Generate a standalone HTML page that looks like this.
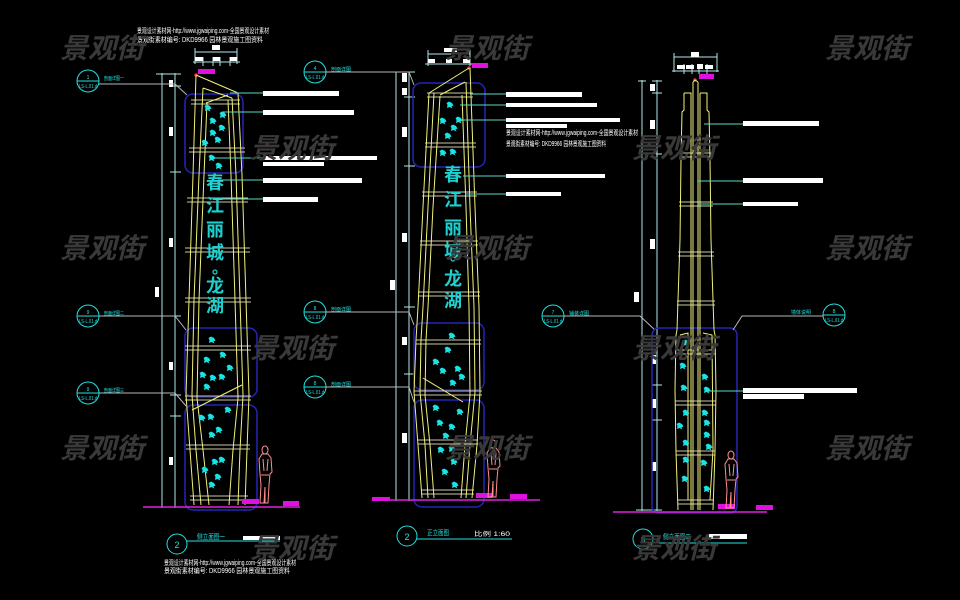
<!DOCTYPE html>
<html><head><meta charset="utf-8">
<style>
html,body{margin:0;padding:0;background:#000;}
body{width:960px;height:600px;overflow:hidden;}
svg{display:block;}
text{font-family:"Liberation Sans","Noto Sans CJK SC",sans-serif;}
</style></head>
<body>
<svg width="960" height="600" viewBox="0 0 960 600" xmlns="http://www.w3.org/2000/svg">
<defs>
  <path id="leaf" d="M-1,-3.5 L2,-2 L3.5,0.5 L1.5,1.5 L2.5,3.5 L-0.5,2 L-3,3 L-2.5,0 L-3.5,-2 Z" fill="#19e3e3"/>
  <g id="person" fill="none" stroke="#ff8f8f" stroke-width="1">
    <ellipse cx="8" cy="5" rx="3" ry="4"/>
    <path d="M5,9 L11,9 L14,13 L15,27 L13,29 L12,40 L11,58 L8,58 L8,42 L7,58 L3,58 L4,40 L3,29 L2,14 Z"/>
    <path d="M6,14 L7,26 M11,14 L10,26 M4,30 L12,30"/>
  </g>
</defs>
<rect width="960" height="600" fill="#000"/>

<!-- ============ TOP-LEFT TEXT ============ -->
<g fill="#ffffff" font-size="7">
  <text x="137" y="33" textLength="132" lengthAdjust="spacingAndGlyphs">景观设计素材网-http://www.jgwaiping.com-全国景观设计素材</text>
  <text x="137" y="42" textLength="126" lengthAdjust="spacingAndGlyphs">景观街素材编号: DKD9966  园林景观施工图资料</text>
</g>

<!-- ============ LEFT TOWER ============ -->
<g>
  <g stroke="#b0e8e8" stroke-width="1" fill="none">
    <line x1="195" y1="52" x2="237" y2="52"/>
    <line x1="195" y1="48" x2="195" y2="64"/><line x1="237" y1="48" x2="237" y2="64"/>
    <line x1="193" y1="62" x2="240" y2="62"/>
    <line x1="203" y1="57" x2="203" y2="66"/><line x1="213" y1="57" x2="213" y2="66"/><line x1="220" y1="57" x2="220" y2="66"/><line x1="230" y1="57" x2="230" y2="66"/>
  </g>
  <rect x="212" y="45" width="8" height="5" fill="#fff"/>
  <rect x="195" y="57" width="8" height="4" fill="#fff"/><rect x="213" y="57" width="7" height="4" fill="#fff"/><rect x="230" y="57" width="7" height="4" fill="#fff"/>
  <rect x="198" y="69" width="17" height="5" fill="#e010e0"/>
  <circle cx="196" cy="75" r="1.8" fill="#ff2020"/>

  <g stroke="#b0e8e8" stroke-width="1" fill="none">
    <line x1="162" y1="73" x2="162" y2="508"/>
    <line x1="175" y1="73" x2="175" y2="508"/>
    <line x1="156" y1="74" x2="181" y2="74"/>
    <line x1="170" y1="86" x2="181" y2="86"/>
    <line x1="170" y1="172" x2="181" y2="172"/>
    <line x1="170" y1="316" x2="181" y2="316"/>
    <line x1="170" y1="395" x2="181" y2="395"/>
    <line x1="170" y1="416" x2="181" y2="416"/>
    <line x1="156" y1="507" x2="181" y2="507"/>
  </g>
  <g fill="#fff">
    <rect x="169" y="80" width="4" height="7"/>
    <rect x="169" y="127" width="4" height="9"/>
    <rect x="169" y="238" width="4" height="9"/>
    <rect x="155" y="287" width="4" height="10"/>
    <rect x="169" y="362" width="4" height="8"/>
    <rect x="169" y="457" width="4" height="8"/>
  </g>

  <g fill="none" stroke="#2424b8" stroke-width="1.5">
    <rect x="185" y="94" width="58" height="79" rx="8"/>
    <rect x="185" y="328" width="72" height="69" rx="8"/>
    <rect x="185" y="405" width="72" height="105" rx="8"/>
  </g>

  <g stroke="#c8c8a0" stroke-width="1">
    <line x1="191" y1="100" x2="240" y2="100"/><line x1="191" y1="104" x2="240" y2="104"/>
    <line x1="189" y1="148" x2="245" y2="148"/><line x1="189" y1="152" x2="245" y2="152"/>
    <line x1="187" y1="198" x2="248" y2="198"/><line x1="187" y1="202" x2="248" y2="202"/>
    <line x1="185" y1="248" x2="250" y2="248"/><line x1="185" y1="252" x2="250" y2="252"/>
    <line x1="185" y1="298" x2="251" y2="298"/><line x1="185" y1="302" x2="251" y2="302"/>
    <line x1="185" y1="346" x2="251" y2="346"/><line x1="185" y1="350" x2="251" y2="350"/>
    <line x1="185" y1="396" x2="251" y2="396"/><line x1="185" y1="400" x2="251" y2="400"/>
    <line x1="186" y1="445" x2="250" y2="445"/><line x1="186" y1="449" x2="250" y2="449"/>
    <line x1="190" y1="496" x2="248" y2="496"/><line x1="190" y1="500" x2="248" y2="500"/>
  </g>

  <g fill="none" stroke="#f2f27a" stroke-width="1">
    <path d="M196,75 L238,93"/>
    <path d="M203,88 L232,98"/>
    <path d="M206,103 L228,95"/>
    <path d="M196,75 L193,175 L189,300 L186,395 L190,450 L194,505"/>
    <path d="M203,88 L199,175 L194,300 L192,395 L196,450 L201,505"/>
    <path d="M207,103 L204,175 L199,300 L197,398 L203,450 L209,505"/>
    <path d="M238,93 L242,175 L246,300 L249,395 L247,450 L245,505"/>
    <path d="M232,98 L236,175 L240,300 L243,395 L240,450 L238,505"/>
    <path d="M228,100 L231,175 L235,300 L238,398 L233,450 L229,505"/>
    <path d="M242,385 L192,410"/>
  </g>

  <g fill="#1fd0d0" font-size="18" font-weight="bold" text-anchor="middle" font-family="'Noto Sans CJK SC',sans-serif">
    <text x="215" y="189">春</text>
    <text x="215" y="212">江</text>
    <text x="215" y="236">丽</text>
    <text x="215" y="259">城</text>
    <text x="215" y="292">龙</text>
    <text x="215" y="312">湖</text>
  </g>
  <circle cx="215" cy="272" r="2" fill="none" stroke="#1fd0d0" stroke-width="1.2"/>

  <g>
    <use href="#leaf" x="208" y="108"/><use href="#leaf" x="223" y="115"/><use href="#leaf" x="213" y="121"/>
    <use href="#leaf" x="222" y="128"/><use href="#leaf" x="213" y="133"/><use href="#leaf" x="205" y="143"/>
    <use href="#leaf" x="218" y="140"/><use href="#leaf" x="212" y="158"/><use href="#leaf" x="219" y="166"/>
    <use href="#leaf" x="212" y="340"/><use href="#leaf" x="223" y="355"/><use href="#leaf" x="207" y="360"/>
    <use href="#leaf" x="230" y="368"/><use href="#leaf" x="203" y="375"/><use href="#leaf" x="213" y="378"/>
    <use href="#leaf" x="222" y="377"/><use href="#leaf" x="207" y="387"/>
    <use href="#leaf" x="202" y="418"/><use href="#leaf" x="211" y="417"/><use href="#leaf" x="228" y="410"/>
    <use href="#leaf" x="219" y="430"/><use href="#leaf" x="212" y="435"/><use href="#leaf" x="222" y="460"/>
    <use href="#leaf" x="215" y="462"/><use href="#leaf" x="205" y="470"/><use href="#leaf" x="218" y="477"/>
    <use href="#leaf" x="212" y="485"/>
  </g>

  <line x1="143" y1="507" x2="300" y2="507" stroke="#e020e0" stroke-width="1.5"/>
  <rect x="242" y="499" width="17" height="5" fill="#e010e0"/>
  <rect x="283" y="501" width="16" height="5" fill="#e010e0"/>
  <use href="#person" transform="translate(257,445)"/>

  <g stroke="#5ad8c8" stroke-width="1">
    <line x1="230" y1="93" x2="263" y2="93"/>
    <line x1="222" y1="112" x2="263" y2="112"/>
    <line x1="215" y1="158" x2="263" y2="158"/>
    <line x1="218" y1="180" x2="263" y2="180"/>
    <line x1="215" y1="199" x2="263" y2="199"/>
  </g>
  <g fill="#fff">
    <rect x="263" y="91" width="76" height="5"/>
    <rect x="263" y="110" width="91" height="5"/>
    <rect x="263" y="156" width="114" height="4"/>
    <rect x="263" y="162" width="61" height="4"/>
    <rect x="263" y="178" width="99" height="5"/>
    <rect x="263" y="197" width="55" height="5"/>
  </g>

  <g fill="none" stroke="#22e0e0" stroke-width="1">
    <circle cx="88" cy="81" r="11"/><line x1="77" y1="81" x2="99" y2="81"/>
    <circle cx="88" cy="316" r="11"/><line x1="77" y1="316" x2="99" y2="316"/>
    <circle cx="88" cy="393" r="11"/><line x1="77" y1="393" x2="99" y2="393"/>
  </g>
  <g fill="#22e0e0" font-size="5" text-anchor="middle">
    <text x="88" y="79">1</text><text x="88" y="88" textLength="18" lengthAdjust="spacingAndGlyphs">LS-L.01.d</text>
    <text x="88" y="314">9</text><text x="88" y="323" textLength="18" lengthAdjust="spacingAndGlyphs">LS-L.01.d</text>
    <text x="88" y="391">9</text><text x="88" y="400" textLength="18" lengthAdjust="spacingAndGlyphs">LS-L.01.d</text>
  </g>
  <g fill="#22e0e0" font-size="5">
    <text x="104" y="80" textLength="20" lengthAdjust="spacingAndGlyphs">剖面详图一</text>
    <text x="104" y="315" textLength="20" lengthAdjust="spacingAndGlyphs">剖面详图二</text>
    <text x="104" y="392" textLength="20" lengthAdjust="spacingAndGlyphs">剖面详图三</text>
  </g>
  <g fill="none" stroke="#b8b8b8" stroke-width="1">
    <path d="M99,84 L175,84 L187,95"/>
    <path d="M99,316 L175,316 L186,330"/>
    <path d="M99,393 L175,393 L186,406"/>
  </g>

  <circle cx="177" cy="544" r="10" fill="none" stroke="#22e0e0" stroke-width="1"/>
  <text x="177" y="548" fill="#22e0e0" font-size="9" text-anchor="middle">2</text>
  <line x1="187" y1="541" x2="280" y2="541" stroke="#22e0e0" stroke-width="1"/>
  <text x="197" y="539" fill="#22e0e0" font-size="7" textLength="28" lengthAdjust="spacingAndGlyphs">侧立面图一</text>
  <rect x="243" y="536" width="37" height="4" fill="#fff"/>
  <g fill="#ffffff" font-size="7">
    <text x="164" y="565" textLength="132" lengthAdjust="spacingAndGlyphs">景观设计素材网-http://www.jgwaiping.com-全国景观设计素材</text>
    <text x="164" y="573" textLength="126" lengthAdjust="spacingAndGlyphs">景观街素材编号: DKD9966  园林景观施工图资料</text>
  </g>
</g>

<!-- ============ MIDDLE TOWER ============ -->
<g>
  <g stroke="#b0e8e8" stroke-width="1" fill="none">
    <line x1="428" y1="54" x2="470" y2="54"/>
    <line x1="428" y1="50" x2="428" y2="66"/><line x1="470" y1="50" x2="470" y2="66"/>
    <line x1="425" y1="64" x2="473" y2="64"/>
  </g>
  <rect x="444" y="48" width="13" height="4" fill="#fff"/>
  <rect x="428" y="59" width="7" height="4" fill="#fff"/><rect x="446" y="59" width="6" height="4" fill="#fff"/><rect x="463" y="59" width="7" height="4" fill="#fff"/>
  <rect x="472" y="63" width="16" height="5" fill="#e010e0"/>
  <circle cx="469" cy="68" r="1.8" fill="#ff2020"/>

  <g stroke="#b0e8e8" stroke-width="1" fill="none">
    <line x1="396" y1="72" x2="396" y2="501"/>
    <line x1="409" y1="72" x2="409" y2="501"/>
    <line x1="390" y1="72" x2="415" y2="72"/>
    <line x1="404" y1="97" x2="415" y2="97"/>
    <line x1="404" y1="166" x2="415" y2="166"/>
    <line x1="404" y1="307" x2="415" y2="307"/>
    <line x1="404" y1="374" x2="415" y2="374"/>
    <line x1="390" y1="500" x2="415" y2="500"/>
  </g>
  <g fill="#fff">
    <rect x="402" y="73" width="5" height="9"/>
    <rect x="402" y="88" width="5" height="7"/>
    <rect x="402" y="127" width="5" height="10"/>
    <rect x="402" y="233" width="5" height="9"/>
    <rect x="390" y="280" width="5" height="10"/>
    <rect x="402" y="337" width="5" height="8"/>
    <rect x="402" y="433" width="5" height="10"/>
  </g>

  <g fill="none" stroke="#2424b8" stroke-width="1.5">
    <rect x="413" y="83" width="72" height="84" rx="8"/>
    <rect x="414" y="323" width="70" height="67" rx="8"/>
    <rect x="414" y="400" width="70" height="107" rx="8"/>
  </g>

  <g stroke="#c8c8a0" stroke-width="1">
    <line x1="427" y1="93" x2="473" y2="93"/><line x1="427" y1="97" x2="473" y2="97"/>
    <line x1="425" y1="143" x2="476" y2="143"/><line x1="425" y1="147" x2="476" y2="147"/>
    <line x1="422" y1="192" x2="477" y2="192"/><line x1="422" y1="196" x2="477" y2="196"/>
    <line x1="420" y1="241" x2="478" y2="241"/><line x1="420" y1="245" x2="478" y2="245"/>
    <line x1="418" y1="292" x2="480" y2="292"/><line x1="418" y1="296" x2="480" y2="296"/>
    <line x1="416" y1="340" x2="481" y2="340"/><line x1="416" y1="344" x2="481" y2="344"/>
    <line x1="414" y1="391" x2="482" y2="391"/><line x1="414" y1="395" x2="482" y2="395"/>
    <line x1="418" y1="440" x2="478" y2="440"/><line x1="418" y1="444" x2="478" y2="444"/>
    <line x1="421" y1="490" x2="474" y2="490"/><line x1="421" y1="494" x2="474" y2="494"/>
  </g>

  <g fill="none" stroke="#f2f27a" stroke-width="1">
    <path d="M469,68 L429,93"/>
    <path d="M465,82 L440,95"/>
    <path d="M429,93 L423,207 L418,307 L416,340 L414,392 L418,445 L422,498"/>
    <path d="M434,93 L428,207 L423,307 L421,340 L420,392 L425,445 L428,498"/>
    <path d="M440,96 L433,207 L428,307 L426,340 L425,395 L430,445 L434,498"/>
    <path d="M470,68 L475,207 L479,307 L480,392 L477,445 L472,498"/>
    <path d="M466,82 L470,207 L474,307 L475,392 L470,445 L466,498"/>
    <path d="M462,95 L466,207 L469,307 L470,395 L465,445 L461,498"/>
    <path d="M423,378 L463,402"/>
  </g>

  <g fill="#1fd0d0" font-size="18" font-weight="bold" text-anchor="middle" font-family="'Noto Sans CJK SC',sans-serif">
    <text x="453" y="181">春</text>
    <text x="453" y="206">江</text>
    <text x="453" y="234">丽</text>
    <text x="453" y="257">城</text>
    <text x="453" y="285">龙</text>
    <text x="453" y="307">湖</text>
  </g>
  <circle cx="453" cy="259" r="2" fill="none" stroke="#1fd0d0" stroke-width="1.2"/>

  <g>
    <use href="#leaf" x="450" y="105"/><use href="#leaf" x="459" y="120"/><use href="#leaf" x="443" y="121"/>
    <use href="#leaf" x="454" y="128"/><use href="#leaf" x="448" y="136"/><use href="#leaf" x="443" y="153"/>
    <use href="#leaf" x="453" y="152"/>
    <use href="#leaf" x="452" y="336"/><use href="#leaf" x="448" y="350"/><use href="#leaf" x="436" y="362"/>
    <use href="#leaf" x="443" y="371"/><use href="#leaf" x="458" y="369"/><use href="#leaf" x="453" y="383"/>
    <use href="#leaf" x="462" y="377"/>
    <use href="#leaf" x="436" y="408"/><use href="#leaf" x="460" y="412"/><use href="#leaf" x="440" y="423"/>
    <use href="#leaf" x="452" y="427"/><use href="#leaf" x="446" y="436"/><use href="#leaf" x="441" y="450"/>
    <use href="#leaf" x="452" y="449"/><use href="#leaf" x="445" y="472"/><use href="#leaf" x="454" y="462"/>
    <use href="#leaf" x="455" y="485"/>
  </g>

  <line x1="373" y1="500" x2="540" y2="500" stroke="#e020e0" stroke-width="1.5"/>
  <rect x="372" y="497" width="18" height="4" fill="#e010e0"/>
  <rect x="476" y="493" width="16" height="5" fill="#e010e0"/>
  <rect x="510" y="494" width="17" height="5" fill="#e010e0"/>
  <use href="#person" transform="translate(485,439)"/>

  <g stroke="#5ad8c8" stroke-width="1">
    <line x1="470" y1="94" x2="506" y2="94"/>
    <line x1="460" y1="105" x2="506" y2="105"/>
    <line x1="462" y1="120" x2="506" y2="120"/>
    <line x1="463" y1="176" x2="506" y2="176"/>
    <line x1="465" y1="194" x2="506" y2="194"/>
  </g>
  <g fill="#fff">
    <rect x="506" y="92" width="76" height="5"/>
    <rect x="506" y="103" width="91" height="4"/>
    <rect x="506" y="118" width="114" height="4"/>
    <rect x="506" y="124" width="61" height="4"/>
    <rect x="506" y="174" width="99" height="4"/>
    <rect x="506" y="192" width="55" height="4"/>
  </g>
  <g fill="#ffffff" font-size="7">
    <text x="506" y="135" textLength="132" lengthAdjust="spacingAndGlyphs">景观设计素材网-http://www.jgwaiping.com-全国景观设计素材</text>
    <text x="506" y="146" textLength="100" lengthAdjust="spacingAndGlyphs">景观街素材编号: DKD9966  园林景观施工图资料</text>
  </g>

  <g fill="none" stroke="#22e0e0" stroke-width="1">
    <circle cx="315" cy="72" r="11"/><line x1="304" y1="72" x2="326" y2="72"/>
    <circle cx="315" cy="312" r="11"/><line x1="304" y1="312" x2="326" y2="312"/>
    <circle cx="315" cy="387" r="11"/><line x1="304" y1="387" x2="326" y2="387"/>
    <circle cx="553" cy="316" r="11"/><line x1="542" y1="316" x2="564" y2="316"/>
  </g>
  <g fill="#22e0e0" font-size="5" text-anchor="middle">
    <text x="315" y="70">4</text><text x="315" y="79" textLength="18" lengthAdjust="spacingAndGlyphs">LS-L.01.d</text>
    <text x="315" y="310">8</text><text x="315" y="319" textLength="18" lengthAdjust="spacingAndGlyphs">LS-L.01.d</text>
    <text x="315" y="385">8</text><text x="315" y="394" textLength="18" lengthAdjust="spacingAndGlyphs">LS-L.01.d</text>
    <text x="553" y="314">7</text><text x="553" y="323" textLength="18" lengthAdjust="spacingAndGlyphs">LS-L.01.d</text>
  </g>
  <g fill="#22e0e0" font-size="5">
    <text x="331" y="71" textLength="20" lengthAdjust="spacingAndGlyphs">剖面详图</text>
    <text x="331" y="311" textLength="20" lengthAdjust="spacingAndGlyphs">剖面详图</text>
    <text x="331" y="386" textLength="20" lengthAdjust="spacingAndGlyphs">剖面详图</text>
    <text x="569" y="315" textLength="20" lengthAdjust="spacingAndGlyphs">铺装详图</text>
  </g>
  <g fill="none" stroke="#b8b8b8" stroke-width="1">
    <path d="M326,72 L409,72 L414,85"/>
    <path d="M326,312 L409,312 L414,325"/>
    <path d="M326,387 L409,387 L414,402"/>
    <path d="M564,316 L640,316 L655,330"/>
  </g>

  <circle cx="407" cy="536" r="10" fill="none" stroke="#22e0e0" stroke-width="1"/>
  <text x="407" y="540" fill="#22e0e0" font-size="9" text-anchor="middle">2</text>
  <line x1="417" y1="539" x2="512" y2="539" stroke="#22e0e0" stroke-width="1"/>
  <text x="427" y="535" fill="#22e0e0" font-size="7" textLength="22" lengthAdjust="spacingAndGlyphs">正立面图</text>
  <text x="474" y="536" fill="#fff" font-size="6" textLength="36" lengthAdjust="spacingAndGlyphs">比例 1:60</text>
</g>

<!-- ============ RIGHT TOWER ============ -->
<g>
  <g stroke="#b0e8e8" stroke-width="1" fill="none">
    <line x1="674" y1="57" x2="717" y2="57"/>
    <line x1="674" y1="53" x2="674" y2="72"/><line x1="717" y1="53" x2="717" y2="72"/>
    <line x1="672" y1="71" x2="719" y2="71"/>
    <line x1="684" y1="64" x2="684" y2="74"/><line x1="692" y1="64" x2="692" y2="74"/><line x1="699" y1="64" x2="699" y2="74"/><line x1="707" y1="64" x2="707" y2="74"/>
  </g>
  <rect x="691" y="52" width="8" height="5" fill="#fff"/>
  <rect x="677" y="65" width="8" height="4" fill="#fff"/><rect x="686" y="65" width="8" height="4" fill="#fff"/><rect x="697" y="64" width="6" height="5" fill="#fff"/><rect x="705" y="65" width="8" height="4" fill="#fff"/>
  <rect x="699" y="74" width="15" height="5" fill="#e010e0"/>
  <circle cx="695" cy="80" r="1.8" fill="#ff2020"/>

  <g stroke="#b0e8e8" stroke-width="1" fill="none">
    <line x1="642" y1="80" x2="642" y2="511"/>
    <line x1="657" y1="80" x2="657" y2="511"/>
    <line x1="638" y1="81" x2="646" y2="81"/>
    <line x1="652" y1="81" x2="662" y2="81"/>
    <line x1="652" y1="93" x2="662" y2="93"/>
    <line x1="652" y1="154" x2="662" y2="154"/>
    <line x1="652" y1="385" x2="662" y2="385"/>
    <line x1="652" y1="420" x2="662" y2="420"/>
    <line x1="636" y1="510" x2="662" y2="510"/>
  </g>
  <g fill="#fff">
    <rect x="650" y="84" width="5" height="7"/>
    <rect x="650" y="120" width="5" height="9"/>
    <rect x="650" y="239" width="5" height="10"/>
    <rect x="634" y="292" width="5" height="10"/>
    <rect x="652" y="355" width="4" height="9"/>
    <rect x="652" y="399" width="4" height="9"/>
    <rect x="652" y="462" width="4" height="9"/>
  </g>

  <rect x="652" y="328" width="85" height="185" rx="7" fill="none" stroke="#2424b8" stroke-width="1.5"/>

  <g stroke="#c8c8a0" stroke-width="1">
    <line x1="680" y1="153" x2="712" y2="153"/><line x1="680" y1="157" x2="712" y2="157"/>
    <line x1="679" y1="202" x2="713" y2="202"/><line x1="679" y1="206" x2="713" y2="206"/>
    <line x1="678" y1="252" x2="714" y2="252"/><line x1="678" y1="256" x2="714" y2="256"/>
    <line x1="677" y1="301" x2="715" y2="301"/><line x1="677" y1="305" x2="715" y2="305"/>
    <line x1="676" y1="350" x2="716" y2="350"/><line x1="676" y1="354" x2="716" y2="354"/>
    <line x1="675" y1="401" x2="716" y2="401"/><line x1="675" y1="405" x2="716" y2="405"/>
    <line x1="676" y1="451" x2="715" y2="451"/><line x1="676" y1="455" x2="715" y2="455"/>
    <line x1="678" y1="500" x2="713" y2="500"/><line x1="678" y1="504" x2="713" y2="504"/>
  </g>

  <g fill="none" stroke="#f2f27a" stroke-width="1">
    <path d="M693,82 L693,510"/>
    <path d="M698,82 L698,510"/>
    <path d="M693,82 L695,80 L698,82"/>
    <path d="M684,93 L691,93 L691,510"/>
    <path d="M684,93 L684,110 L682,112 L681,160 L680,240 L678,300 L677,330 L676,335 L675,390 L676,452 L678,510"/>
    <path d="M700,93 L707,93 L707,110 L709,112 L710,160 L711,240 L713,300 L714,330 L715,335 L716,390 L715,452 L713,510"/>
    <path d="M700,93 L700,510"/>
    <path d="M680,335 L688,333 L688,500 M703,333 L712,335 L713,450 L710,500"/>
  </g>

  <g>
    <use href="#leaf" x="686" y="343"/><use href="#leaf" x="683" y="366"/><use href="#leaf" x="684" y="388"/>
    <use href="#leaf" x="686" y="413"/><use href="#leaf" x="680" y="426"/><use href="#leaf" x="686" y="443"/>
    <use href="#leaf" x="686" y="460"/><use href="#leaf" x="685" y="479"/>
    <use href="#leaf" x="705" y="377"/><use href="#leaf" x="707" y="390"/><use href="#leaf" x="705" y="413"/>
    <use href="#leaf" x="707" y="423"/><use href="#leaf" x="707" y="435"/><use href="#leaf" x="709" y="447"/>
    <use href="#leaf" x="704" y="463"/><use href="#leaf" x="707" y="489"/>
  </g>

  <line x1="613" y1="512" x2="767" y2="512" stroke="#e020e0" stroke-width="1.5"/>
  <rect x="718" y="504" width="17" height="5" fill="#e010e0"/>
  <rect x="756" y="505" width="17" height="5" fill="#e010e0"/>
  <use href="#person" transform="translate(723,450)"/>

  <g stroke="#5ad8c8" stroke-width="1">
    <line x1="704" y1="124" x2="743" y2="124"/>
    <line x1="698" y1="181" x2="743" y2="181"/>
    <line x1="698" y1="204" x2="743" y2="204"/>
    <line x1="707" y1="391" x2="743" y2="391"/>
  </g>
  <g fill="#fff">
    <rect x="743" y="121" width="76" height="5"/>
    <rect x="743" y="178" width="80" height="5"/>
    <rect x="743" y="202" width="55" height="4"/>
    <rect x="743" y="388" width="114" height="5"/>
    <rect x="743" y="394" width="61" height="5"/>
  </g>

  <g fill="none" stroke="#22e0e0" stroke-width="1">
    <circle cx="834" cy="315" r="11"/><line x1="823" y1="315" x2="845" y2="315"/>
  </g>
  <g fill="#22e0e0" font-size="5" text-anchor="middle">
    <text x="834" y="313">8</text><text x="834" y="322" textLength="18" lengthAdjust="spacingAndGlyphs">LS-L.01.d</text>
  </g>
  <text x="791" y="314" fill="#22e0e0" font-size="5" textLength="20" lengthAdjust="spacingAndGlyphs">墙体说明</text>
  <path d="M823,316 L742,316 L733,330" fill="none" stroke="#b8b8b8" stroke-width="1"/>

  <circle cx="643" cy="539" r="10" fill="none" stroke="#22e0e0" stroke-width="1"/>
  <text x="643" y="543" fill="#22e0e0" font-size="9" text-anchor="middle">3</text>
  <line x1="653" y1="543" x2="747" y2="543" stroke="#22e0e0" stroke-width="1"/>
  <text x="663" y="539" fill="#22e0e0" font-size="7" textLength="28" lengthAdjust="spacingAndGlyphs">侧立面图二</text>
  <rect x="709" y="534" width="38" height="5" fill="#fff"/>
</g>

<!-- ============ WATERMARKS ============ -->
<g fill="#393939" font-size="28" font-weight="bold" font-style="italic" font-family="'Noto Sans CJK SC','WenQuanYi Zen Hei',sans-serif">
  <text x="60" y="58">景观街</text><text x="445" y="58">景观街</text><text x="825" y="58">景观街</text>
  <text x="250" y="158">景观街</text><text x="632" y="158">景观街</text>
  <text x="60" y="258">景观街</text><text x="445" y="258">景观街</text><text x="825" y="258">景观街</text>
  <text x="250" y="358">景观街</text><text x="632" y="358">景观街</text>
  <text x="60" y="458">景观街</text><text x="445" y="458">景观街</text><text x="825" y="458">景观街</text>
  <text x="250" y="558">景观街</text><text x="632" y="558">景观街</text>
</g>
</svg>
</body></html>
